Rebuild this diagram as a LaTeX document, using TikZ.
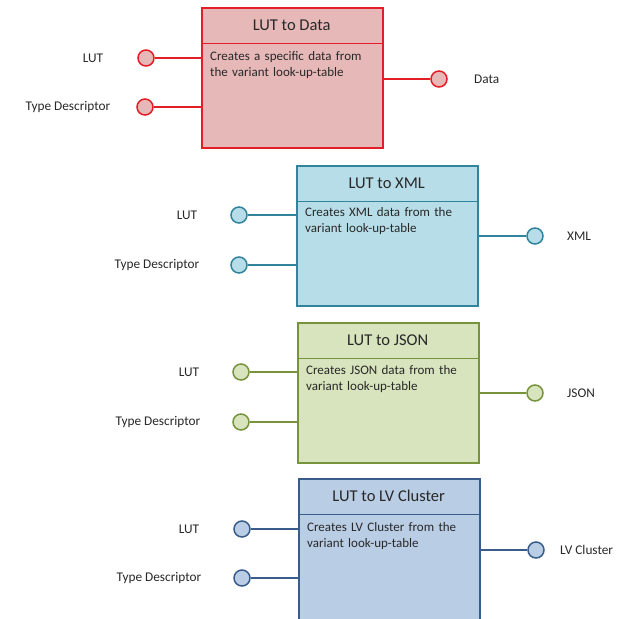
\documentclass[tikz,border=0pt]{standalone}
\usepackage{fontspec}
\setmainfont{Carlito}
\definecolor{rB}{RGB}{228,30,38}
\definecolor{rF}{RGB}{230,185,184}
\definecolor{bB}{RGB}{49,132,155}
\definecolor{bF}{RGB}{183,222,232}
\definecolor{gB}{RGB}{119,147,60}
\definecolor{gF}{RGB}{215,228,189}
\definecolor{lB}{RGB}{56,93,138}
\definecolor{lF}{RGB}{185,205,229}
\definecolor{txt}{RGB}{40,40,40}
\tikzset{
  x=1pt,y=-1pt,
  boxnode/.style={draw, rectangle, minimum width=181pt, minimum height=140pt, inner sep=0pt, anchor=north west, line width=1.5pt},
  ttl/.style={rectangle, minimum width=181pt, minimum height=36pt, inner sep=0pt, anchor=north west, font=\fontsize{16.5}{19}\selectfont, text=txt},
  btxt/.style={anchor=north west, inner sep=0pt, text width=172pt, align=left, font=\fontsize{13}{16}\selectfont, text=txt},
  port/.style={draw, circle, minimum size=16pt, inner sep=0pt, line width=1.5pt},
  wire/.style={line width=1.5pt},
  lbl/.style={font=\fontsize{13.3}{15}\selectfont, text=txt, inner sep=0pt},
}
\begin{document}
\begin{tikzpicture}
\useasboundingbox (0,0) rectangle (622,619);
\clip (0,0) rectangle (622,619);
% ---------- LUT to Data ----------
\node[boxnode, draw=rB, fill=rF, line width=1.8pt] (b1) at (201,7) {};
\node[ttl] (t1) at (b1.north west) {LUT to Data};
\draw[rB, line width=1.5pt] (t1.south west) -- (t1.south east);
\node[btxt] (x1) at (210,51) {Creates a specific data from\\the variant look-up-table};
\node[port, draw=rB, fill=rF] (p1a) at (146,58) {};
\node[port, draw=rB, fill=rF] (p1b) at (145,107) {};
\node[port, draw=rB, fill=rF] (p1c) at (439,79) {};
\draw[wire, rB] (p1a.east) -- (p1a -| b1.west);
\draw[wire, rB] (p1b.east) -- (p1b -| b1.west);
\draw[wire, rB] (p1c.west) -- (p1c -| b1.east);
\node[lbl] (l1a) at (93,58) {LUT};
\node[lbl] (l1b) at (68,107) {Type Descriptor};
\node[lbl, anchor=west] (l1c) at (474,79) {Data};
% ---------- LUT to XML ----------
\node[boxnode, draw=bB, fill=bF] (b2) at (296,165) {};
\node[ttl] (t2) at (b2.north west) {LUT to XML};
\draw[bB, line width=1.3pt] (t2.south west) -- (t2.south east);
\node[btxt] (x2) at (305,207) {Creates XML data from the\\variant look-up-table};
\node[port, draw=bB, fill=bF] (p2a) at (239,215) {};
\node[port, draw=bB, fill=bF] (p2b) at (239,265) {};
\node[port, draw=bB, fill=bF] (p2c) at (535,236) {};
\draw[wire, bB] (p2a.east) -- (p2a -| b2.west);
\draw[wire, bB] (p2b.east) -- (p2b -| b2.west);
\draw[wire, bB] (p2c.west) -- (p2c -| b2.east);
\node[lbl] (l2a) at (187,215) {LUT};
\node[lbl] (l2b) at (157,265) {Type Descriptor};
\node[lbl, anchor=west] (l2c) at (567,236) {XML};
% ---------- LUT to JSON ----------
\node[boxnode, draw=gB, fill=gF] (b3) at (297,322) {};
\node[ttl] (t3) at (b3.north west) {LUT to JSON};
\draw[gB, line width=1.3pt] (t3.south west) -- (t3.south east);
\node[btxt] (x3) at (306,365) {Creates JSON data from the\\variant look-up-table};
\node[port, draw=gB, fill=gF] (p3a) at (241,372) {};
\node[port, draw=gB, fill=gF] (p3b) at (241,422) {};
\node[port, draw=gB, fill=gF] (p3c) at (535,393) {};
\draw[wire, gB] (p3a.east) -- (p3a -| b3.west);
\draw[wire, gB] (p3b.east) -- (p3b -| b3.west);
\draw[wire, gB] (p3c.west) -- (p3c -| b3.east);
\node[lbl] (l3a) at (189,372) {LUT};
\node[lbl] (l3b) at (158,422) {Type Descriptor};
\node[lbl, anchor=west] (l3c) at (567,393) {JSON};
% ---------- LUT to LV Cluster ----------
\node[boxnode, draw=lB, fill=lF, minimum height=148pt] (b4) at (298,478) {};
\node[ttl] (t4) at (b4.north west) {LUT to LV Cluster};
\draw[lB, line width=1.3pt] (t4.south west) -- (t4.south east);
\node[btxt] (x4) at (307,522) {Creates LV Cluster from the\\variant look-up-table};
\node[port, draw=lB, fill=lF] (p4a) at (242,529) {};
\node[port, draw=lB, fill=lF] (p4b) at (242,578) {};
\node[port, draw=lB, fill=lF] (p4c) at (536,550) {};
\draw[wire, lB] (p4a.east) -- (p4a -| b4.west);
\draw[wire, lB] (p4b.east) -- (p4b -| b4.west);
\draw[wire, lB] (p4c.west) -- (p4c -| b4.east);
\node[lbl] (l4a) at (189,529) {LUT};
\node[lbl] (l4b) at (159,578) {Type Descriptor};
\node[lbl, anchor=west] (l4c) at (560,550) {LV Cluster};
\end{tikzpicture}
\end{document}
